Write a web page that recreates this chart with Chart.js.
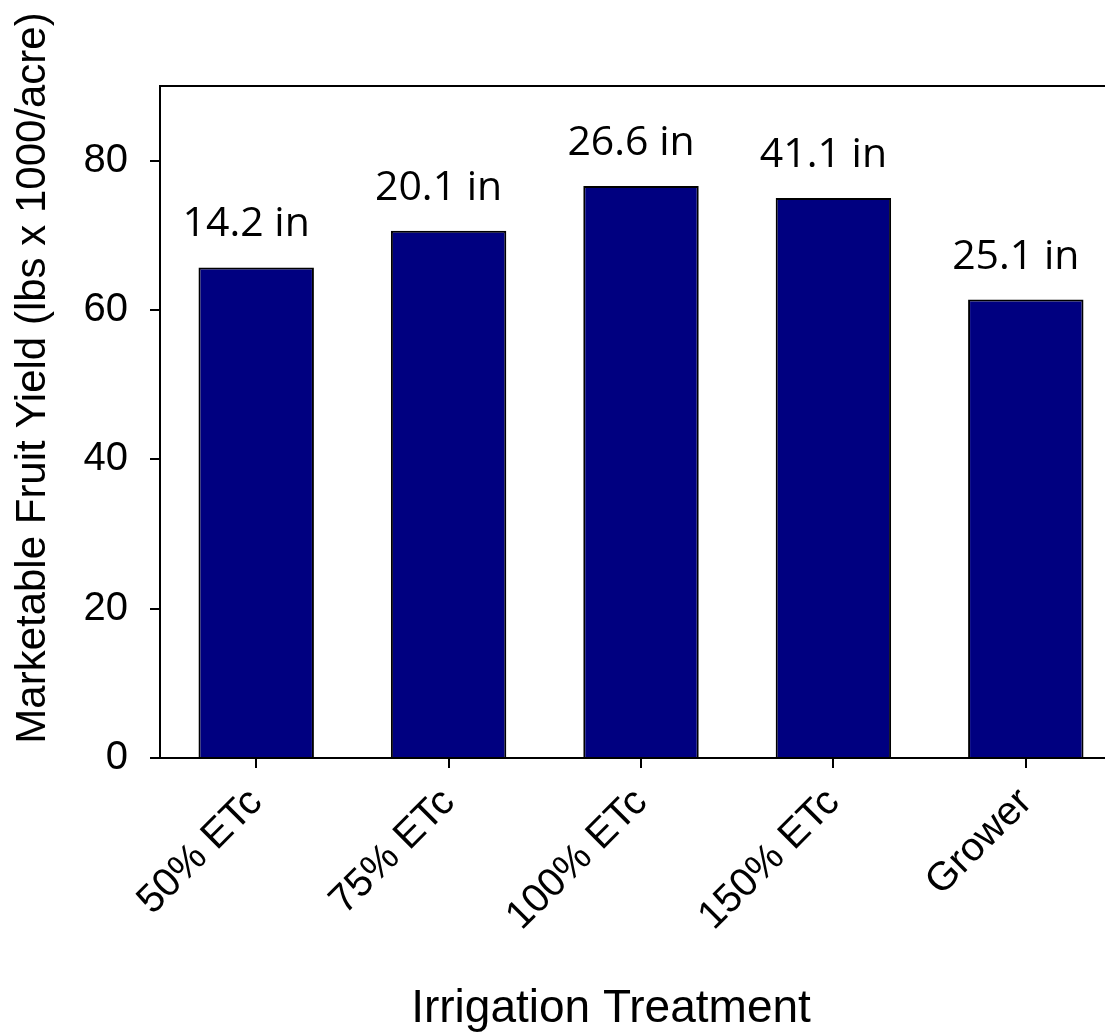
<!DOCTYPE html>
<html>
<head>
<meta charset="utf-8">
<script src="https://cdn.jsdelivr.net/npm/chart.js@4/dist/chart.umd.min.js"></script>
<style>
  html, body { margin: 0; padding: 0; background: #fff; overflow: hidden; }
  #wrap { width: 1105px; height: 1032px; overflow: hidden; position: relative; }
  canvas { display: block; }
</style>
</head>
<body>
<div id="wrap"><canvas id="chart" width="1122" height="1032"></canvas></div>
<script>
// Irrigation treatments and marketable yield (lbs x 1000/acre)
const treatments = ["50% ETc", "75% ETc", "100% ETc", "150% ETc", "Grower"];
const yieldValues = [65.7, 70.6, 76.6, 75.0, 61.4];
// Seasonal irrigation applied per treatment (inches)
const waterApplied = [14.2, 20.1, 26.6, 41.1, 25.1];
const yTickValues = [0, 20, 40, 60, 80];

const yTitle = "Marketable Fruit Yield (lbs x 1000/acre)";
const xTitle = "Irrigation Treatment";

// Frame around the plot area, water labels above bars, and axis titles
const decorations = {
  id: "decorations",
  afterDatasetsDraw(chart) {
    const ctx = chart.ctx;
    const a = chart.chartArea;
    ctx.save();
    ctx.strokeStyle = "#000";
    ctx.lineWidth = 2;
    ctx.beginPath();
    ctx.moveTo(a.left, a.top);
    ctx.lineTo(a.right, a.top);
    ctx.lineTo(a.right, a.bottom);
    ctx.stroke();

    const meta = chart.getDatasetMeta(0);
    ctx.fillStyle = "#000";
    ctx.font = '41px "Open Sans"';
    ctx.textAlign = "center";
    ctx.textBaseline = "alphabetic";
    meta.data.forEach((bar, i) => {
      ctx.fillText(waterApplied[i].toFixed(1) + " in", bar.x - 10, bar.y - 31);
    });

    ctx.font = '42px "Liberation Sans", Arial, sans-serif';
    ctx.translate(45, 378);
    ctx.rotate(-Math.PI / 2);
    ctx.fillText(yTitle, 0, 0);
    ctx.restore();

    ctx.save();
    ctx.fillStyle = "#000";
    ctx.font = '46px "Liberation Sans", Arial, sans-serif';
    ctx.textAlign = "center";
    ctx.textBaseline = "alphabetic";
    ctx.fillText(xTitle, 611, 1022);
    ctx.restore();
  }
};

new Chart(document.getElementById("chart"), {
  type: "bar",
  data: {
    labels: treatments,
    datasets: [{
      data: yieldValues,
      backgroundColor: "#000080",
      borderColor: "#000",
      borderWidth: 2,
      barPercentage: 0.6,
      categoryPercentage: 1.0
    }]
  },
  options: {
    responsive: false,
    animation: false,
    layout: { padding: { left: 0, right: 0, top: 86, bottom: 0 } },
    plugins: { legend: { display: false }, tooltip: { enabled: false } },
    scales: {
      x: {
        offset: true,
        grid: { drawOnChartArea: false, drawTicks: true, tickLength: 10, color: "#000", lineWidth: 2, offset: false },
        border: { display: true, color: "#000", width: 2 },
        ticks: {
          color: "#000",
          font: { family: '"Liberation Sans", Arial, sans-serif', size: 40 },
          minRotation: 45, maxRotation: 45, autoSkip: false, padding: 11
        },
        afterFit(scale) { scale.height = 1032 - 758; }
      },
      y: {
        min: 0, max: 90,
        grid: { drawOnChartArea: false, drawTicks: true, tickLength: 10, color: "#000", lineWidth: 2 },
        border: { display: true, color: "#000", width: 2 },
        ticks: {
          color: "#000",
          font: { family: '"Liberation Sans", Arial, sans-serif', size: 40 },
          padding: 22
        },
        afterBuildTicks(scale) { scale.ticks = yTickValues.map(v => ({ value: v })); },
        afterFit(scale) { scale.width = 160; }
      }
    }
  },
  plugins: [decorations]
});
</script>
</body>
</html>
